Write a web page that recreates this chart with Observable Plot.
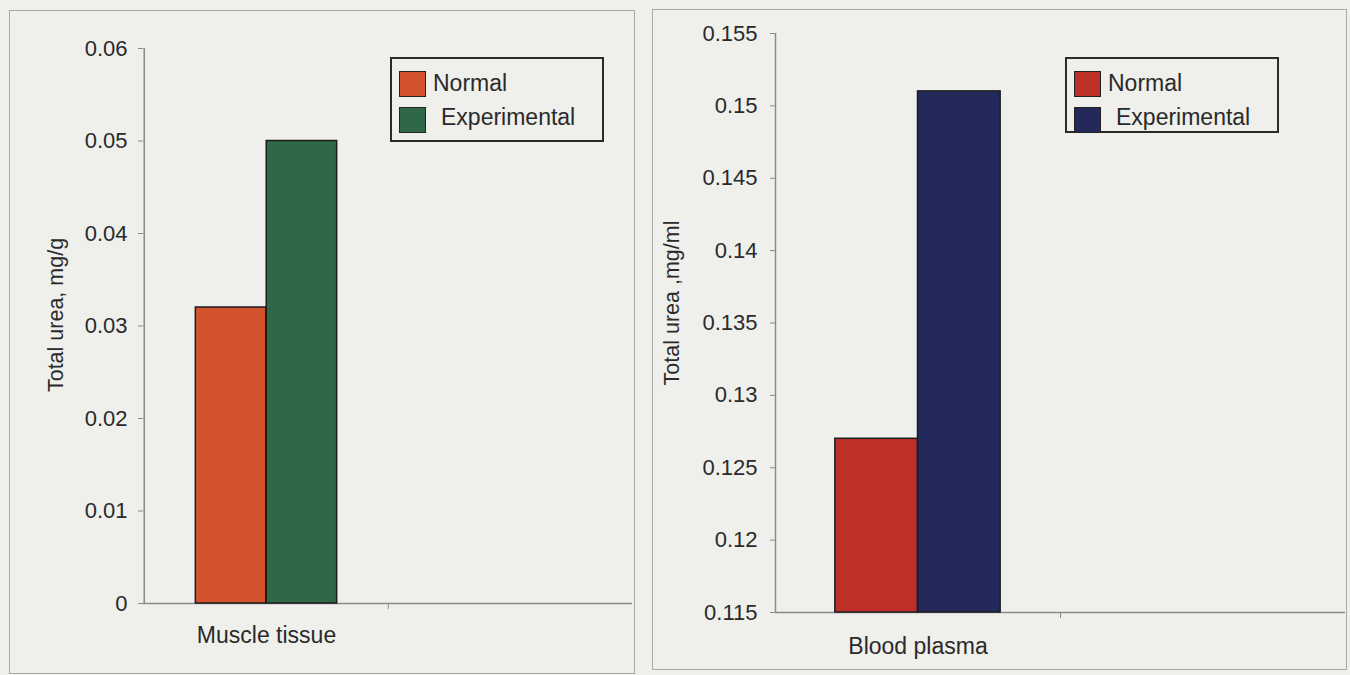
<!DOCTYPE html>
<html><head><meta charset="utf-8">
<script src="https://cdn.jsdelivr.net/npm/d3@7"></script>
<script src="https://cdn.jsdelivr.net/npm/@observablehq/plot@0.6"></script>
<style>
body{margin:0;background:#efefec;width:1350px;height:675px;position:relative;overflow:hidden;font-family:"Liberation Sans",Arial,sans-serif}
.panel{position:absolute;border:1.5px solid #a9a9a7;box-sizing:border-box}
.chart{position:absolute;top:0}
.legend{position:absolute;border:2px solid #2a2a2a;box-sizing:border-box}
.sw{position:absolute;width:27px;height:26px;border:1.5px solid #222;box-sizing:border-box}
.lt{position:absolute;font-size:23px;color:#2a2a2a;white-space:nowrap;line-height:1}
</style></head>
<body>
<div class="panel" style="left:9px;top:10px;width:626px;height:664px"></div>
<div class="panel" style="left:652px;top:9px;width:695px;height:661px"></div>
<div id="left" class="chart" style="left:0px"></div>
<div id="right" class="chart" style="left:650px"></div>
<script>
// ---- data ----
const series = ["Normal", "Experimental"];
const muscleCategories = ["Muscle tissue", ""];
const muscleValues = [0.032, 0.050];
const muscleColors = ["#d4532f", "#2e6846"];
const muscleTicks = [0, 0.01, 0.02, 0.03, 0.04, 0.05, 0.06];
const muscleTitle = "Total urea, mg/g";

const plasmaCategories = ["Blood plasma", ""];
const plasmaValues = [0.127, 0.151];
const plasmaColors = ["#c0302a", "#24295b"];
const plasmaTicks = [0.115, 0.12, 0.125, 0.13, 0.135, 0.14, 0.145, 0.15, 0.155];
const plasmaTitle = "Total urea ,mg/ml";

const fmt = d => String(+d.toFixed(3));
const ink = "#2a2a2a";

function chart(cfg) {
  const data = series.map((s, i) => ({category: cfg.categories[0], series: s, value: cfg.values[i]}));
  const plotW = cfg.width - cfg.ml - cfg.mr;
  const bw = plotW / cfg.categories.length;
  const barW = 0.29 * bw;
  const yMin = cfg.ticks[0], yMax = cfg.ticks[cfg.ticks.length - 1];
  const marks = [
    Plot.ruleY([yMin], {stroke: "#8a8a8a", strokeWidth: 1.5}),
    Plot.axisX([cfg.categories[1]], {tickSize: 6, tickFormat: () => "", dx: -bw / 2, stroke: "#8a8a8a", label: null}),
    Plot.axisX({tickSize: 0, tickPadding: cfg.catPad, fontSize: 23, fill: ink, label: null}),
    Plot.axisY({ticks: cfg.ticks, tickFormat: fmt, tickSize: 5, tickPadding: cfg.tp, fontSize: 22, fill: ink, stroke: "#8a8a8a", label: null}),
    Plot.ruleX([0], {x: () => cfg.categories[0], dx: -bw / 2, y1: yMin, y2: yMax, stroke: "#8a8a8a", strokeWidth: 1.5}),
    Plot.text([cfg.title], {frameAnchor: "left", textAnchor: "middle", rotate: -90, dx: cfg.titleDx, dy: cfg.titleDy, fontSize: 21.5, fill: ink})
  ];
  series.forEach((s, i) => {
    marks.push(Plot.barY(data.filter(d => d.series === s), {
      x: "category", y1: yMin, y2: "value",
      fill: cfg.colors[i], stroke: "#1c1c1c", strokeWidth: 1.5,
      insetLeft: i === 0 ? bw / 2 - barW : bw / 2,
      insetRight: i === 0 ? bw / 2 : bw / 2 - barW
    }));
  });
  return Plot.plot({
    width: cfg.width, height: 675,
    marginLeft: cfg.ml, marginRight: cfg.mr, marginTop: cfg.mt, marginBottom: cfg.mb,
    style: {background: "transparent", fontFamily: "Liberation Sans, Arial, sans-serif"},
    x: {type: "band", domain: cfg.categories, padding: 0, axis: null},
    y: {domain: [yMin, yMax], axis: null},
    marks
  });
}

document.getElementById("left").append(chart({
  categories: muscleCategories, values: muscleValues, colors: muscleColors, ticks: muscleTicks, title: muscleTitle,
  width: 640, ml: 143, mr: 8, mt: 48, mb: 72, tp: 11, catPad: 23, titleDx: -87, titleDy: -11
}));
document.getElementById("right").append(chart({
  categories: plasmaCategories, values: plasmaValues, colors: plasmaColors, ticks: plasmaTicks, title: plasmaTitle,
  width: 700, ml: 125, mr: 5, mt: 33, mb: 63, tp: 13, catPad: 25, titleDx: -103, titleDy: -20
}));

// legends
function legend(left, top, w, h, colors) {
  const box = document.createElement("div");
  box.className = "legend";
  Object.assign(box.style, {left: left + "px", top: top + "px", width: w + "px", height: h + "px"});
  series.forEach((s, i) => {
    const sw = document.createElement("div");
    sw.className = "sw";
    Object.assign(sw.style, {left: "7px", top: (12 + i * 36) + "px", background: colors[i]});
    const t = document.createElement("div");
    t.className = "lt";
    t.textContent = s;
    Object.assign(t.style, {left: (i === 0 ? 41 : 49) + "px", top: (13 + i * 34) + "px"});
    box.append(sw, t);
  });
  document.body.append(box);
}
legend(390, 57, 214, 85, muscleColors);
legend(1065, 57, 214, 76, plasmaColors);
</script>
</body></html>
